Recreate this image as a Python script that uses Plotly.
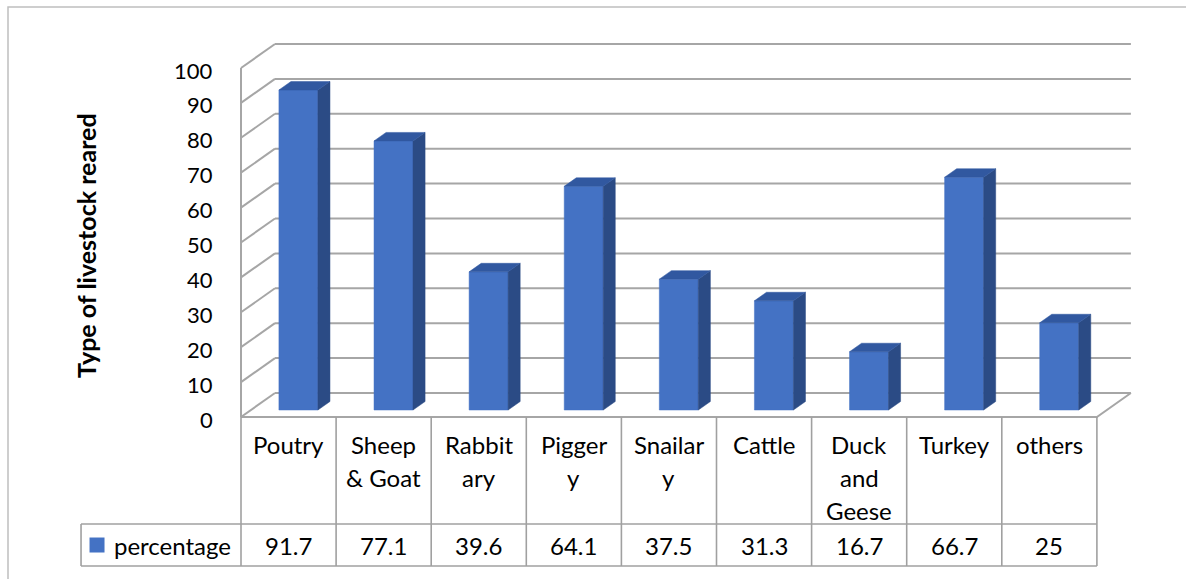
import plotly.graph_objects as go

# ---------------- data ----------------
categories = ["Poutry", "Sheep & Goat", "Rabbitary", "Piggery", "Snailary",
              "Cattle", "Duck and Geese", "Turkey", "others"]
category_lines = [["Poutry"], ["Sheep", "& Goat"], ["Rabbit", "ary"], ["Pigger", "y"],
                  ["Snailar", "y"], ["Cattle"], ["Duck", "and", "Geese"], ["Turkey"], ["others"]]
percentage = [91.7, 77.1, 39.6, 64.1, 37.5, 31.3, 16.7, 66.7, 25]
value_labels = ["91.7", "77.1", "39.6", "64.1", "37.5", "31.3", "16.7", "66.7", "25"]
y_ticks = [0, 10, 20, 30, 40, 50, 60, 70, 80, 90, 100]
series_name = "percentage"
y_title = "Type of livestock reared"

# ---------------- style / geometry ----------------
W, H = 1186, 579
FONT = "Lato"
GRID = "#A6A6A6"
FRONT = "#4472C4"
SIDE = "#2B4B85"
TOP = "#3158A0"
TXT = "#000000"

n = len(categories)
XR = [-2.5342, 9.9369]
YR = [-46.42, 119.48]
DX, DY = 0.3575, 6.877
F0, F1 = 0.29, 0.645
HW = 0.205
ROW1 = -30.66
ROW2 = -42.69
LEG_X = -1.682
LINE_STEP = 9.37
ymax = y_ticks[-1]

fig = go.Figure()

def add_lines(xs, ys, color=GRID, width=2):
    fig.add_trace(go.Scatter(x=xs, y=ys, mode="lines", line=dict(color=color, width=width),
                             hoverinfo="skip", showlegend=False))

gx, gy = [], []
for t in y_ticks:
    gx += [DX, n + DX, None, 0, DX, None]
    gy += [t + DY, t + DY, None, t, t + DY, None]
gx += [0, 0, None]
gy += [0, ymax, None]
gx += [0, n, n + DX, None]
gy += [0, 0, DY, None]
add_lines(gx, gy)

tx, ty = [], []
for i in range(n + 1):
    tx += [i, i, None]
    ty += [0, ROW2, None]
tx += [LEG_X, n, None, LEG_X, n, None, LEG_X, LEG_X, None]
ty += [ROW1, ROW1, None, ROW2, ROW2, None, ROW1, ROW2, None]
add_lines(tx, ty, color="#A0A0A0", width=1.6)

def poly(xs, ys, color):
    fig.add_trace(go.Scatter(x=xs + [xs[0]], y=ys + [ys[0]], mode="lines", fill="toself",
                             fillcolor=color, line=dict(color=color, width=0.5),
                             hoverinfo="skip", showlegend=False))

for i, v in enumerate(percentage):
    cx = i + 0.5
    xl = cx - HW + F0 * DX
    xr = cx + HW + F0 * DX
    dd = (F1 - F0) * DX
    y0f, y0b = F0 * DY, F1 * DY
    poly([xl, xr, xr, xl], [y0f, y0f, v + y0f, v + y0f], FRONT)
    poly([xr, xr + dd, xr + dd, xr], [y0f, y0b, v + y0b, v + y0f], SIDE)
    poly([xl, xr, xr + dd, xl + dd], [v + y0f, v + y0f, v + y0b, v + y0b], TOP)

fig.add_trace(go.Scatter(x=[-1.514], y=[-36.68], mode="markers",
                         marker=dict(symbol="square", size=15, color=FRONT),
                         hoverinfo="skip", showlegend=False))

ann = []
for t in y_ticks:
    ann.append(dict(x=-0.273, y=t - 0.6, text=str(t), xanchor="right", yanchor="middle",
                    showarrow=False, font=dict(family=FONT, size=22, color=TXT)))
ann.append(dict(x=-1.63, y=49.3, text="<b>" + y_title + "</b>", textangle=-90,
                showarrow=False, xanchor="center", yanchor="middle",
                font=dict(family=FONT, size=25, color=TXT)))
for i, lines in enumerate(category_lines):
    for k, ln in enumerate(lines):
        ann.append(dict(x=i + 0.5, y=-8.02 - k * LINE_STEP, text=ln, showarrow=False,
                        xanchor="center", yanchor="middle",
                        font=dict(family=FONT, size=24, color=TXT)))
for i, s in enumerate(value_labels):
    ann.append(dict(x=i + 0.5, y=-36.68, text=s, showarrow=False, xanchor="center",
                    yanchor="middle", font=dict(family=FONT, size=24, color=TXT)))
ann.append(dict(x=-1.36, y=-36.68, text=series_name, showarrow=False, xanchor="left",
                yanchor="middle", font=dict(family=FONT, size=24, color=TXT)))

fig.update_layout(
    width=W, height=H, margin=dict(l=0, r=0, t=0, b=0),
    paper_bgcolor="white", plot_bgcolor="white",
    xaxis=dict(range=XR, visible=False, fixedrange=True),
    yaxis=dict(range=YR, visible=False, fixedrange=True),
    annotations=ann,
    shapes=[dict(type="rect", xref="paper", yref="paper", x0=8 / W, x1=1.2,
                 y0=-0.2, y1=1 - 7 / H, line=dict(color="#BFBFBF", width=1.5),
                 fillcolor="rgba(0,0,0,0)", layer="below")],
    showlegend=False,
)

fig.write_html("out.html")
